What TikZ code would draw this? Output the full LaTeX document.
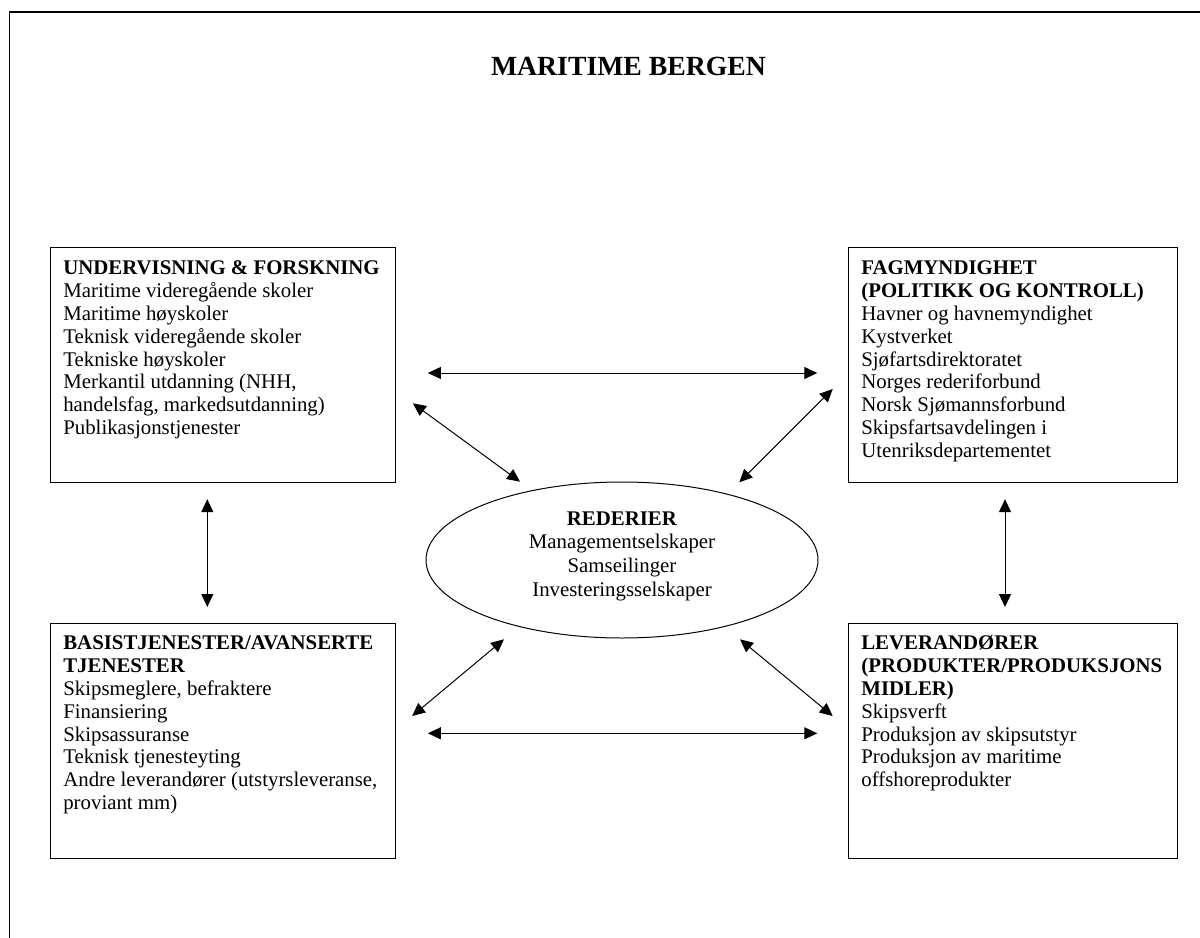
\documentclass[tikz,border=0pt]{standalone}
\usepackage{fontspec}
\setmainfont{Liberation Serif}
\usetikzlibrary{arrows.meta,calc,shapes.geometric}
\tikzset{
  boxnode/.style={draw=black, line width=0.7pt, rectangle, anchor=north west, inner sep=0pt},
  boxtext/.style={anchor=north west, inner sep=0pt, align=left, font=\fontsize{12.55}{13.8}\selectfont},
  ellnode/.style={draw=black, line width=0.6pt, ellipse, inner sep=0pt,
    minimum width=392*0.6024pt, minimum height=156*0.6024pt},
  elltext/.style={inner sep=0pt, align=center, font=\fontsize{12.55}{14.25}\selectfont},
  dblarrow/.style={line width=0.6pt, {Triangle[length=7.8pt,width=7.2pt]}-{Triangle[length=7.8pt,width=7.2pt]}},
  frameline/.style={line width=0.7pt, draw=black}
}
\begin{document}
\begin{tikzpicture}[x=0.6024pt, y=-0.6024pt]
\useasboundingbox (0,0) rectangle (1200,938);
\draw[frameline] (9.5,950) -- (9.5,12) -- (1215,12);

\node[anchor=base, inner sep=0pt, font=\fontsize{16.7}{19}\selectfont\bfseries] (title) at (628.5,76) {MARITIME BERGEN};

\node[boxnode, minimum width=345*0.6024pt, minimum height=235*0.6024pt] (ul) at (50,247) {};
\node[boxnode, minimum width=329*0.6024pt, minimum height=235*0.6024pt] (ur) at (848,247) {};
\node[boxnode, minimum width=345*0.6024pt, minimum height=235*0.6024pt] (ll) at (50,623) {};
\node[boxnode, minimum width=329*0.6024pt, minimum height=235*0.6024pt] (lr) at (848,623) {};

\node[boxtext] (ult) at (63,258) {\strut\textbf{UNDERVISNING \& FORSKNING}\\
Maritime videregående skoler\\
Maritime høyskoler\\
Teknisk videregående skoler\\
Tekniske høyskoler\\
Merkantil utdanning (NHH,\\
handelsfag, markedsutdanning)\\
Publikasjonstjenester};

\node[boxtext] (urt) at (861,258) {\strut\textbf{FAGMYNDIGHET}\\
\textbf{(POLITIKK OG KONTROLL)}\\
Havner og havnemyndighet\\
Kystverket\\
Sjøfartsdirektoratet\\
Norges rederiforbund\\
Norsk Sjømannsforbund\\
Skipsfartsavdelingen i\\
Utenriksdepartementet};

\node[boxtext] (llt) at (63,633) {\strut\textbf{BASISTJENESTER/AVANSERTE}\\
\textbf{TJENESTER}\\
Skipsmeglere, befraktere\\
Finansiering\\
Skipsassuranse\\
Teknisk tjenesteyting\\
Andre leverandører (utstyrsleveranse,\\
proviant mm)};

\node[boxtext] (lrt) at (861,633) {\strut\textbf{LEVERANDØRER}\\
\textbf{(PRODUKTER/PRODUKSJONS}\\
\textbf{MIDLER)}\\
Skipsverft\\
Produksjon av skipsutstyr\\
Produksjon av maritime\\
offshoreprodukter};

\node[ellnode] (ell) at (622,560) {};
\node[elltext] (ellt) at ($(ell.center)+(0,-4)$) {\textbf{REDERIER}\\Managementselskaper\\Samseilinger\\Investeringsselskaper};

% vertical arrows
\draw[dblarrow] ($(ul.south west)+(157.3,16)$) -- ($(ll.north west)+(157.3,-16)$);
\draw[dblarrow] ($(ur.south west)+(157,16)$) -- ($(lr.north west)+(157,-16)$);
% horizontal arrows
\draw[dblarrow] ($(ul.north east)+(31.7,126)$) -- ($(ur.north west)+(-30.7,126)$);
\draw[dblarrow] ($(ll.north east)+(31.7,110.3)$) -- ($(lr.north west)+(-30.7,110.3)$);
% diagonal arrows
\draw[dblarrow] ($(ul.north east)+(16.7,156.3)$) -- ($(ell.center)+(-102,-78.3)$);
\draw[dblarrow] ($(ur.north west)+(-15.3,142)$) -- ($(ell.center)+(117.3,-77.7)$);
\draw[dblarrow] ($(ell.center)+(-118,79.3)$) -- ($(ll.north east)+(16,93)$);
\draw[dblarrow] ($(ell.center)+(118,79.3)$) -- ($(lr.north west)+(-15.3,93)$);
\end{tikzpicture}
\end{document}
